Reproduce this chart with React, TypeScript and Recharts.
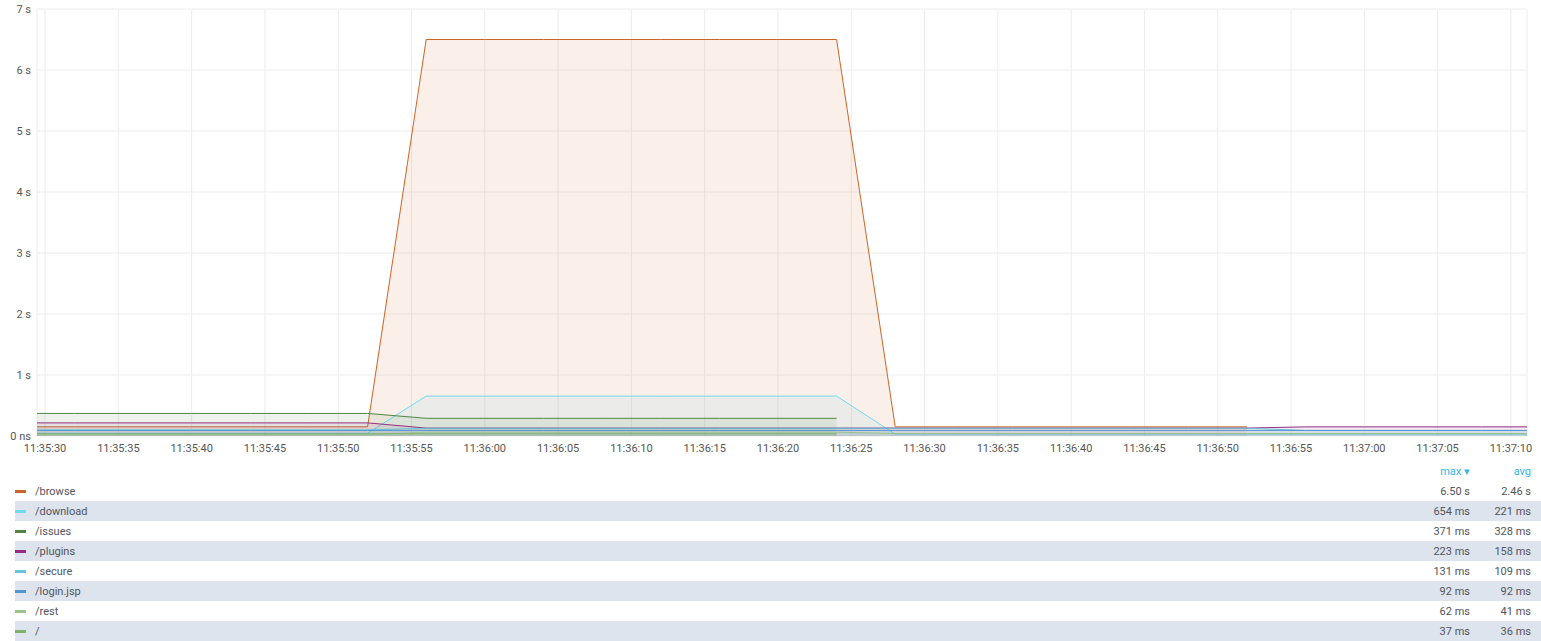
import { Area, CartesianGrid, ComposedChart, XAxis, YAxis } from 'recharts'

// seconds after 11:35:30, one sample every 4 s
const TIMES = [-2, 2, 6, 10, 14, 18, 22, 26, 30, 34, 38, 42, 46, 50, 54, 58, 62, 66, 70, 74, 78, 82, 86, 90, 94, 98, 102]

const BROWSE = [0.15, 0.15, 0.15, 0.15, 0.15, 0.15, 0.15, 6.5, 6.5, 6.5, 6.5, 6.5, 6.5, 6.5, 6.5, 0.15, 0.15, 0.15, 0.15, 0.15, 0.15, 0.15, null, null, null, null, null]
const DOWNLOAD = [0.045, 0.045, 0.045, 0.045, 0.045, 0.045, 0.045, 0.654, 0.654, 0.654, 0.654, 0.654, 0.654, 0.654, 0.654, 0.03, 0.03, 0.03, 0.03, 0.03, 0.03, 0.03, 0.03, 0.03, 0.03, 0.03, 0.03]
const ISSUES = [0.37, 0.37, 0.37, 0.37, 0.37, 0.37, 0.37, 0.29, 0.29, 0.29, 0.29, 0.29, 0.29, 0.29, 0.29, null, null, null, null, null, null, null, null, null, null, null, null]
const PLUGINS = [0.215, 0.215, 0.215, 0.215, 0.215, 0.215, 0.215, 0.13, 0.13, 0.13, 0.13, 0.13, 0.13, 0.13, 0.13, 0.13, 0.13, 0.13, 0.13, 0.13, 0.13, 0.13, 0.15, 0.15, 0.15, 0.15, 0.15]
const SECURE = [0.1, 0.1, 0.1, 0.1, 0.1, 0.1, 0.1, 0.128, 0.128, 0.128, 0.128, 0.128, 0.128, 0.128, 0.128, 0.128, 0.128, 0.128, 0.128, 0.128, 0.128, 0.128, 0.09, 0.09, 0.09, 0.09, 0.09]
const LOGIN = [0.092, 0.092, 0.092, 0.092, 0.092, 0.092, 0.092, 0.092, 0.092, 0.092, 0.092, 0.092, 0.092, 0.092, 0.092, 0.092, 0.092, 0.092, 0.092, 0.092, 0.092, 0.092, 0.092, 0.092, 0.092, 0.092, 0.092]
const REST = [0.02, 0.02, 0.02, 0.02, 0.02, 0.02, 0.02, 0.062, 0.062, 0.062, 0.062, 0.062, 0.062, 0.062, 0.062, 0.04, 0.04, 0.04, 0.04, 0.04, 0.04, 0.04, 0.04, 0.04, 0.04, 0.04, 0.04]
const ROOT = [0.036, 0.036, 0.036, 0.036, 0.036, 0.036, 0.036, 0.036, 0.036, 0.036, 0.036, 0.036, 0.036, 0.036, 0.036, null, null, null, null, null, null, null, null, null, null, null, null]

const SERIES_KEYS = ['browse', 'download', 'issues', 'plugins', 'secure', 'login', 'rest', 'root']
const SERIES_NAMES = ['/browse', '/download', '/issues', '/plugins', '/secure', '/login.jsp', '/rest', '/']
const SERIES_COLORS = ['#CC6526', '#70DBED', '#508642', '#962D82', '#65C5DB', '#5195CE', '#9AC48A', '#7EB26D']
const MAX_LABELS = ['6.50 s', '654 ms', '371 ms', '223 ms', '131 ms', '92 ms', '62 ms', '37 ms']
const AVG_LABELS = ['2.46 s', '221 ms', '328 ms', '158 ms', '109 ms', '92 ms', '41 ms', '36 ms']

const X_TICKS = [0, 5, 10, 15, 20, 25, 30, 35, 40, 45, 50, 55, 60, 65, 70, 75, 80, 85, 90, 95, 100]
const Y_TICKS = [0, 1, 2, 3, 4, 5, 6, 7]

const VALUES = [BROWSE, DOWNLOAD, ISSUES, PLUGINS, SECURE, LOGIN, REST, ROOT]

const data = TIMES.map((t, i) => {
  const row: Record<string, number | null> = { t }
  SERIES_KEYS.forEach((k, j) => {
    row[k] = VALUES[j][i]
  })
  return row
})

const fmtTime = (t: number) => {
  const s = 35 * 60 + 30 + t
  const m = Math.floor(s / 60)
  const sec = s % 60
  return `11:${m}:${String(sec).padStart(2, '0')}`
}

const fmtY = (v: number) => (v === 0 ? '0 ns' : `${v} s`)

const tickStyle = { fontSize: 11, fill: '#555', fontFamily: 'Roboto' }

export default function App() {
  return (
    <div
      style={{
        position: 'absolute',
        left: 0,
        top: 0,
        width: 1541,
        height: 641,
        background: '#fff',
        fontFamily: 'Roboto',
        overflow: 'hidden',
      }}
    >
      <ComposedChart
        width={1541}
        height={460}
        data={data}
        margin={{ top: 9, right: 14, bottom: 0, left: 0 }}
      >
        <CartesianGrid stroke="#ececec" />
        <XAxis
          dataKey="t"
          type="number"
          domain={[-0.55, 101.1]}
          allowDataOverflow
          ticks={X_TICKS}
          tickFormatter={fmtTime}
          tick={tickStyle}
          tickLine={false}
          axisLine={false}
          tickSize={0}
          tickMargin={8}
          height={24}
          interval={0}
        />
        <YAxis
          type="number"
          domain={[0, 7]}
          ticks={Y_TICKS}
          tickFormatter={fmtY}
          tick={tickStyle}
          tickLine={false}
          axisLine={false}
          tickSize={0}
          tickMargin={6}
          width={37}
          interval={0}
        />
        {SERIES_KEYS.map((k, j) => (
          <Area
            key={k}
            dataKey={k}
            type="linear"
            stroke={SERIES_COLORS[j]}
            strokeWidth={1}
            fill={SERIES_COLORS[j]}
            fillOpacity={0.1}
            dot={false}
            activeDot={false}
            isAnimationActive={false}
          />
        ))}
      </ComposedChart>

      <div style={{ position: 'absolute', top: 465, left: 0, width: 1541, height: 16, fontSize: 11, color: '#33b5e5' }}>
        <span style={{ position: 'absolute', right: 71 }}>max ▾</span>
        <span style={{ position: 'absolute', right: 10 }}>avg</span>
      </div>

      {SERIES_NAMES.map((name, i) => (
        <div
          key={name}
          style={{
            position: 'absolute',
            top: 481 + i * 20,
            left: 15,
            width: 1526,
            height: 20,
            background: i % 2 === 1 ? '#dde4ed' : 'transparent',
            fontSize: 11,
            color: '#52545c',
            lineHeight: '21px',
          }}
        >
          <span
            style={{
              position: 'absolute',
              left: 0,
              top: 9,
              width: 11,
              height: 3,
              background: SERIES_COLORS[i],
            }}
          />
          <span style={{ position: 'absolute', left: 20 }}>{name}</span>
          <span style={{ position: 'absolute', right: 71 }}>{MAX_LABELS[i]}</span>
          <span style={{ position: 'absolute', right: 10 }}>{AVG_LABELS[i]}</span>
        </div>
      ))}
    </div>
  )
}
